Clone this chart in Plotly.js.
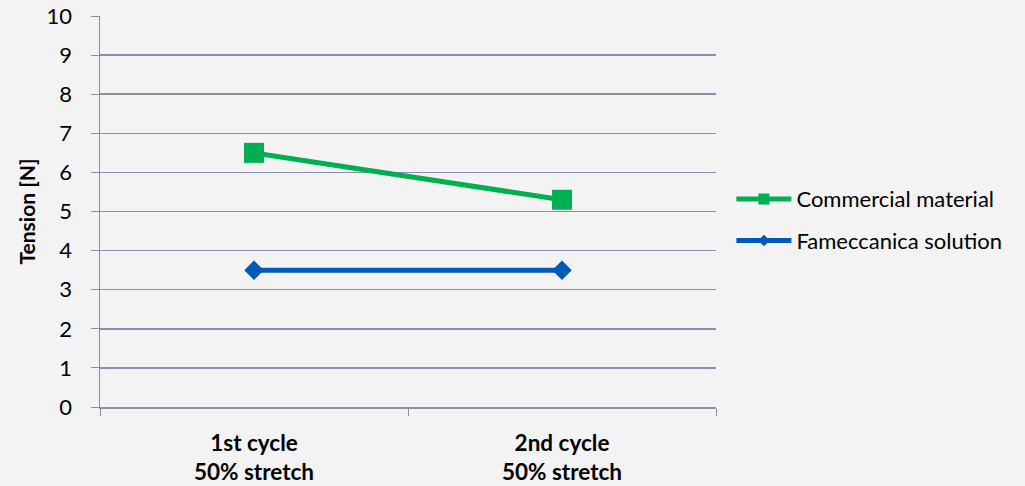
<!DOCTYPE html>
<html>
<head>
<meta charset="utf-8">
<script src="https://cdn.plot.ly/plotly-3.0.1.min.js"></script>
<style>html,body{margin:0;padding:0;background:#f3f3f3;}</style>
</head>
<body>
<div id="chart" style="width:1025px;height:486px;"></div>
<script>
const categories = ["<b>1st cycle</b><br><b>50% stretch</b>", "<b>2nd cycle</b><br><b>50% stretch</b>"];
const commercial = [6.5, 5.3];
const fameccanica = [3.5, 3.5];
const seriesNames = ["Commercial material", "Fameccanica solution"];
const seriesColors = ["#00b050", "#0058b8"];

const FONT = "Lato, 'Open Sans', sans-serif";

const traces = [
  {
    x: categories, y: commercial, name: seriesNames[0], type: "scatter", mode: "lines+markers",
    showlegend: false,
    line: {color: seriesColors[0], width: 5},
    marker: {symbol: "square", size: 20, color: seriesColors[0]}
  },
  {
    x: categories, y: fameccanica, name: seriesNames[1], type: "scatter", mode: "lines+markers",
    showlegend: false,
    line: {color: seriesColors[1], width: 5},
    marker: {symbol: "diamond", size: 15, color: seriesColors[1]}
  },
  // legend entries (smaller legend markers, as in the reference)
  {
    x: [null], y: [null], name: seriesNames[0], type: "scatter", mode: "lines+markers",
    legendgroup: "a", hoverinfo: "skip",
    line: {color: seriesColors[0], width: 5},
    marker: {symbol: "square", size: 11, color: seriesColors[0]}
  },
  {
    x: [null], y: [null], name: seriesNames[1], type: "scatter", mode: "lines+markers",
    legendgroup: "b", hoverinfo: "skip",
    line: {color: seriesColors[1], width: 5},
    marker: {symbol: "diamond", size: 9, color: seriesColors[1]}
  }
];

const layout = {
  width: 1025, height: 486,
  paper_bgcolor: "#f3f3f3", plot_bgcolor: "#f3f3f3",
  margin: {l: 100, r: 309, t: 16, b: 79},
  font: {family: FONT, color: "#000"},
  showlegend: true,
  legend: {
    x: 1.025, xanchor: "left", y: 0.478, yanchor: "middle",
    font: {size: 22, family: FONT, color: "#000"},
    bgcolor: "rgba(0,0,0,0)",
    itemwidth: 55, tracegroupgap: 10
  },
  xaxis: {
    type: "category", range: [-0.5, 1.5],
    showgrid: false, showline: true, linecolor: "#8c8cac", linewidth: 1.5,
    ticks: "outside", tickson: "boundaries", ticklen: 7, tickcolor: "#8c8cac",
    tickfont: {size: 22.5, family: FONT, color: "#000"},
    ticklabelstandoff: 15,
    zeroline: false, fixedrange: true
  },
  yaxis: {
    range: [0, 10], dtick: 1, tick0: 0,
    showgrid: true, gridcolor: "#8c8cac", gridwidth: 1.5,
    showline: true, linecolor: "#8c8cac", linewidth: 1.5,
    ticks: "outside", ticklen: 8, tickcolor: "#8c8cac",
    tickfont: {size: 22, family: FONT, color: "#000"},
    ticklabelstandoff: 14,
    zeroline: false,
    title: {text: "<b>Tension [N]</b>", font: {size: 21, family: FONT, color: "#000"}, standoff: 5}
  }
};

Plotly.newPlot("chart", traces, layout, {displayModeBar: false, staticPlot: true});
</script>
</body>
</html>
